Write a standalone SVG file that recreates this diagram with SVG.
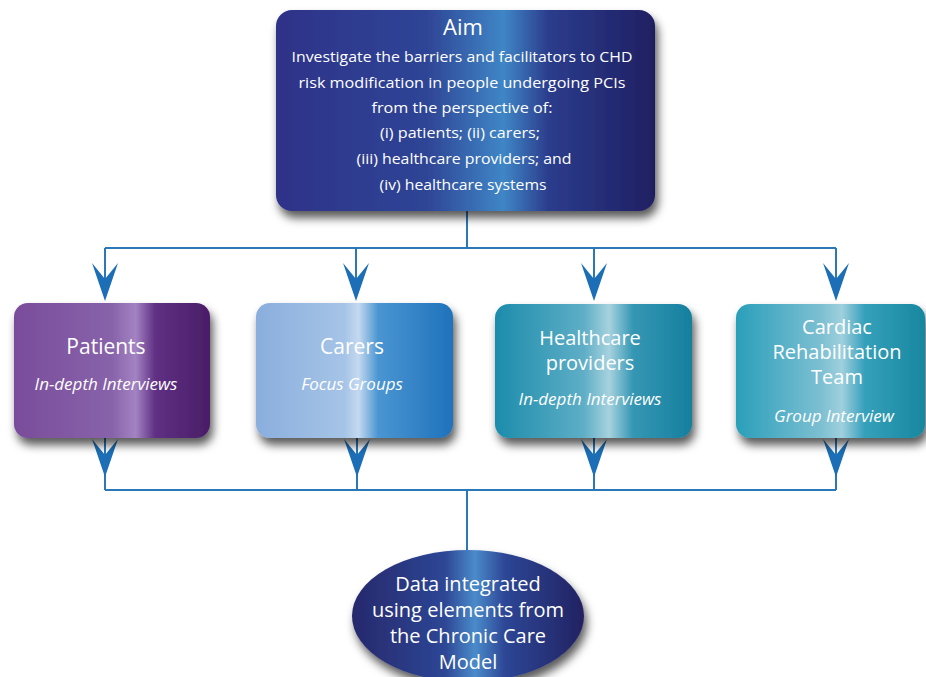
<svg xmlns="http://www.w3.org/2000/svg" width="926" height="677" viewBox="0 0 926 677">
<defs>
<style>
.t{fill:#ffffff;font-family:"Open Sans","Liberation Sans",sans-serif;text-anchor:middle}
.h{font-size:21px}
.m{font-size:20px}
.s{font-size:17px;font-style:italic}
.b{font-size:15px}
.ln{stroke:#2a78b8;stroke-width:2;fill:none}
.ah{fill:#1c6fb6}
</style>
<filter id="sh" x="-10%" y="-10%" width="125%" height="135%">
<feDropShadow dx="3" dy="7" stdDeviation="5" flood-color="#000" flood-opacity="0.65"/>
</filter>
<linearGradient id="gAim" x1="0" y1="0" x2="1" y2="0">
<stop offset="0" stop-color="#2d3288"/>
<stop offset="0.4" stop-color="#2f4596"/>
<stop offset="0.6" stop-color="#3f86c6"/>
<stop offset="0.72" stop-color="#2b3c8c"/>
<stop offset="1" stop-color="#1f1f62"/>
</linearGradient>
<linearGradient id="gPat" x1="0" y1="0" x2="1" y2="0">
<stop offset="0" stop-color="#7a4c9b"/>
<stop offset="0.5" stop-color="#8763aa"/>
<stop offset="0.62" stop-color="#a383c2"/>
<stop offset="0.72" stop-color="#5f3083"/>
<stop offset="1" stop-color="#4a1d67"/>
</linearGradient>
<linearGradient id="gCar" x1="0" y1="0" x2="1" y2="0">
<stop offset="0" stop-color="#8aaedd"/>
<stop offset="0.45" stop-color="#a6c4e7"/>
<stop offset="0.52" stop-color="#c4d9ef"/>
<stop offset="0.62" stop-color="#4a95d2"/>
<stop offset="1" stop-color="#1f72bb"/>
</linearGradient>
<linearGradient id="gHP" x1="0" y1="0" x2="1" y2="0">
<stop offset="0" stop-color="#1c8cab"/>
<stop offset="0.45" stop-color="#5eaec6"/>
<stop offset="0.58" stop-color="#a6d2de"/>
<stop offset="0.7" stop-color="#3597b4"/>
<stop offset="1" stop-color="#157f9e"/>
</linearGradient>
<linearGradient id="gCR" x1="0" y1="0" x2="1" y2="0">
<stop offset="0" stop-color="#2a9fba"/>
<stop offset="0.45" stop-color="#7dbfd2"/>
<stop offset="0.56" stop-color="#9fd0dd"/>
<stop offset="0.68" stop-color="#36a0bb"/>
<stop offset="1" stop-color="#17879f"/>
</linearGradient>
<linearGradient id="gEl" x1="0" y1="0" x2="1" y2="0">
<stop offset="0" stop-color="#27286c"/>
<stop offset="0.4" stop-color="#2d4695"/>
<stop offset="0.53" stop-color="#4a8bca"/>
<stop offset="0.66" stop-color="#2d4695"/>
<stop offset="1" stop-color="#222262"/>
</linearGradient>
<path id="arr" d="M0,0 L-13,-38 L0,-22 L13,-38 Z"/>
</defs>
<rect width="926" height="677" fill="#ffffff"/>

<g id="connectors">
<path class="ln" d="M467,211 V248 M105,248 H836 M105,248 V290 M356,248 V290 M594,248 V290 M836,248 V290"/>
<use href="#arr" class="ah" x="105" y="301"/>
<use href="#arr" class="ah" x="356" y="301"/>
<use href="#arr" class="ah" x="594" y="301"/>
<use href="#arr" class="ah" x="836" y="301"/>
<path class="ln" d="M105,438 V490 M357,438 V490 M594,438 V490 M836,438 V490 M105,490 H836 M467,490 V552"/>
<use href="#arr" class="ah" x="105" y="477"/>
<use href="#arr" class="ah" x="357" y="477"/>
<use href="#arr" class="ah" x="594" y="477"/>
<use href="#arr" class="ah" x="836" y="477"/>
</g>

<g id="aim">
<rect x="276" y="10" width="379" height="201" rx="16" fill="url(#gAim)" filter="url(#sh)"/>
<text class="t" x="463" y="35" font-size="22">Aim</text>
<text class="t b" x="462" y="62" textLength="341" lengthAdjust="spacingAndGlyphs">Investigate the barriers and facilitators to CHD</text>
<text class="t b" x="462" y="88" textLength="327" lengthAdjust="spacingAndGlyphs">risk modification in people undergoing PCIs</text>
<text class="t b" x="462" y="113" textLength="181" lengthAdjust="spacingAndGlyphs">from the perspective of:</text>
<text class="t b" x="460" y="138" textLength="160" lengthAdjust="spacingAndGlyphs">(i) patients; (ii) carers;</text>
<text class="t b" x="464" y="164" textLength="215" lengthAdjust="spacingAndGlyphs">(iii) healthcare providers; and</text>
<text class="t b" x="463" y="190" textLength="167" lengthAdjust="spacingAndGlyphs">(iv) healthcare systems</text>
</g>

<g id="patients">
<rect x="14" y="303" width="196" height="135" rx="14" fill="url(#gPat)" filter="url(#sh)"/>
<text class="t h" x="106" y="354">Patients</text>
<text class="t s" x="106" y="390">In-depth Interviews</text>
</g>

<g id="carers">
<rect x="256" y="303" width="197" height="135" rx="14" fill="url(#gCar)" filter="url(#sh)"/>
<text class="t h" x="352" y="354">Carers</text>
<text class="t s" x="352" y="390">Focus Groups</text>
</g>

<g id="providers">
<rect x="495" y="304" width="197" height="134" rx="14" fill="url(#gHP)" filter="url(#sh)"/>
<text class="t m" x="590" y="345">Healthcare</text>
<text class="t m" x="590" y="370">providers</text>
<text class="t s" x="590" y="405">In-depth Interviews</text>
</g>

<g id="cardiac">
<rect x="736" y="304" width="189" height="134" rx="14" fill="url(#gCR)" filter="url(#sh)"/>
<text class="t m" x="837" y="334">Cardiac</text>
<text class="t m" x="837" y="359">Rehabilitation</text>
<text class="t m" x="837" y="384">Team</text>
<text class="t s" x="834" y="422">Group Interview</text>
</g>

<g id="data">
<ellipse cx="468" cy="616" rx="116" ry="66" fill="url(#gEl)" filter="url(#sh)"/>
<text class="t" x="468" y="591" font-size="20">Data integrated</text>
<text class="t" x="468" y="617" font-size="20">using elements from</text>
<text class="t" x="468" y="643" font-size="20">the Chronic Care</text>
<text class="t" x="468" y="669" font-size="20">Model</text>
</g>
</svg>
